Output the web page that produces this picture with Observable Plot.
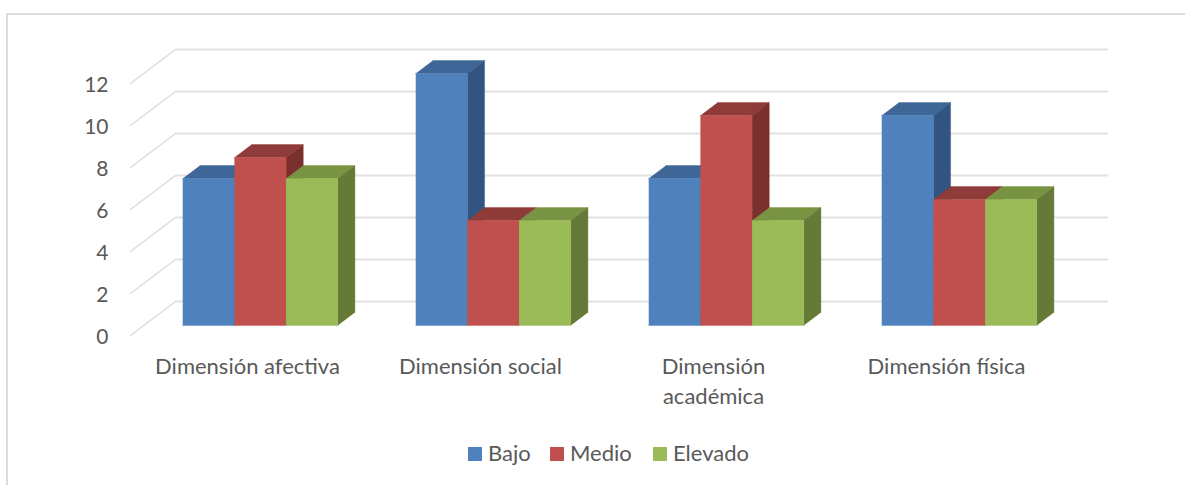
<!DOCTYPE html>
<html><head><meta charset="utf-8">
<script src="https://cdn.jsdelivr.net/npm/d3@7"></script>
<script src="https://cdn.jsdelivr.net/npm/@observablehq/plot@0.6"></script>
<style>
html,body{margin:0;padding:0;background:#fff;overflow:hidden}
#chart{position:relative;width:1185px;height:485px;font-family:Lato,sans-serif;color:#595959}
#border{position:absolute;left:6px;top:13px;right:0;bottom:0;border-left:2px solid #dcdcdc;border-top:2px solid #dcdcdc}
#plot{position:absolute;left:0;top:0}
#plot svg{display:block;background:transparent}
#legend{position:absolute;left:0;top:439px;width:1185px;height:28px;font-size:22px;line-height:28px}
#legend span{position:absolute;white-space:nowrap}
#legend i{position:absolute;top:8px;width:14px;height:14px}
</style></head><body>
<div id="chart"><div id="border"></div><div id="plot"></div><div id="legend"></div></div>
<script>
const categories = ["Dimensión afectiva","Dimensión social","Dimensión\nacadémica","Dimensión física"];
const seriesNames = ["Bajo","Medio","Elevado"];
const bajo = [7,12,7,10];
const medio = [8,5,10,6];
const elevado = [7,5,5,6];
const seriesValues = [bajo,medio,elevado];
const frontColors = ["#4F81BD","#C0504D","#9BBB59"];
const topColors = ["#3E6696","#8F3B39","#789341"];
const sideColors = ["#315580","#7B302E","#657A37"];
const yTicks = [0,2,4,6,8,10,12];

// oblique projection of the 3D box: depth w (0 front, 1 back wall) in axis units
const depthX = 45/233, depthY = 34/21;
const px = (c,w) => c + w*depthX;
const py = (v,w) => v + w*depthY;
const barW = 51.67/233, groupLeft = (1 - 3*barW)/2;
const wFront = 0.294, wBack = 0.676;

const polys = [];
categories.forEach((cat,i) => {
  seriesNames.forEach((s,j) => {
    const v = seriesValues[j][i];
    const a = i + groupLeft + j*barW, b = a + barW;
    const add = (id,color,pts) => pts.forEach(([c,val,w]) => polys.push({id,color,x:px(c,w),y:py(val,w)}));
    add(`${i}-${j}-top`,topColors[j],[[a,v,wFront],[b,v,wFront],[b,v,wBack],[a,v,wBack]]);
    add(`${i}-${j}-side`,sideColors[j],[[b,0,wFront],[b,v,wFront],[b,v,wBack],[b,0,wBack]]);
    add(`${i}-${j}-front`,frontColors[j],[[a,0,wFront],[b,0,wFront],[b,v,wFront],[a,v,wFront]]);
  });
});

const diagonals = yTicks.flatMap(t => [[0,t,0],[0,t,1]].map(([c,v,w]) => ({t,x:px(c,w),y:py(v,w)})));
const walls = yTicks.flatMap(t => [[0,t,1],[categories.length,t,1]].map(([c,v,w]) => ({t,x:px(c,w),y:py(v,w)})));

const plot = Plot.plot({
  width:1185, height:435,
  marginLeft:130, marginRight:123, marginTop:83, marginBottom:100,
  style:{fontFamily:"Lato,sans-serif",fontSize:"22px",color:"#595959",background:"transparent",overflow:"visible"},
  x:{domain:[0,categories.length],axis:null},
  y:{domain:[0,12],axis:null},
  color:{type:"identity"},
  marks:[
    Plot.axisY({ticks:yTicks,tickSize:0,tickPadding:22,fontSize:21,dy:2,fill:"#595959",label:null}),
    Plot.line(diagonals,{x:"x",y:"y",z:"t",stroke:"#dcdcdc",strokeWidth:1.4}),
    Plot.line(walls,{x:"x",y:"y",z:"t",stroke:"#e2e2e2",strokeWidth:1.8}),
    Plot.line(polys,{x:"x",y:"y",z:"id",fill:"color",stroke:"color",strokeWidth:0.4}),
    Plot.text(categories,{x:(d,i)=>i+0.5,y:()=>0,text:d=>d,dx:0.5,dy:17.5,lineAnchor:"top",lineHeight:1.36,fontSize:22,fill:"#595959"})
  ]
});
document.getElementById("plot").append(plot);

const leg = document.getElementById("legend");
const swatchX = [468,550,653];
seriesNames.forEach((s,j)=>{
  const i = document.createElement("i");
  i.style.left = swatchX[j]+"px"; i.style.background = frontColors[j];
  const t = document.createElement("span");
  t.textContent = s; t.style.left = (swatchX[j]+20)+"px";
  leg.append(i,t);
});
</script>
</body></html>
